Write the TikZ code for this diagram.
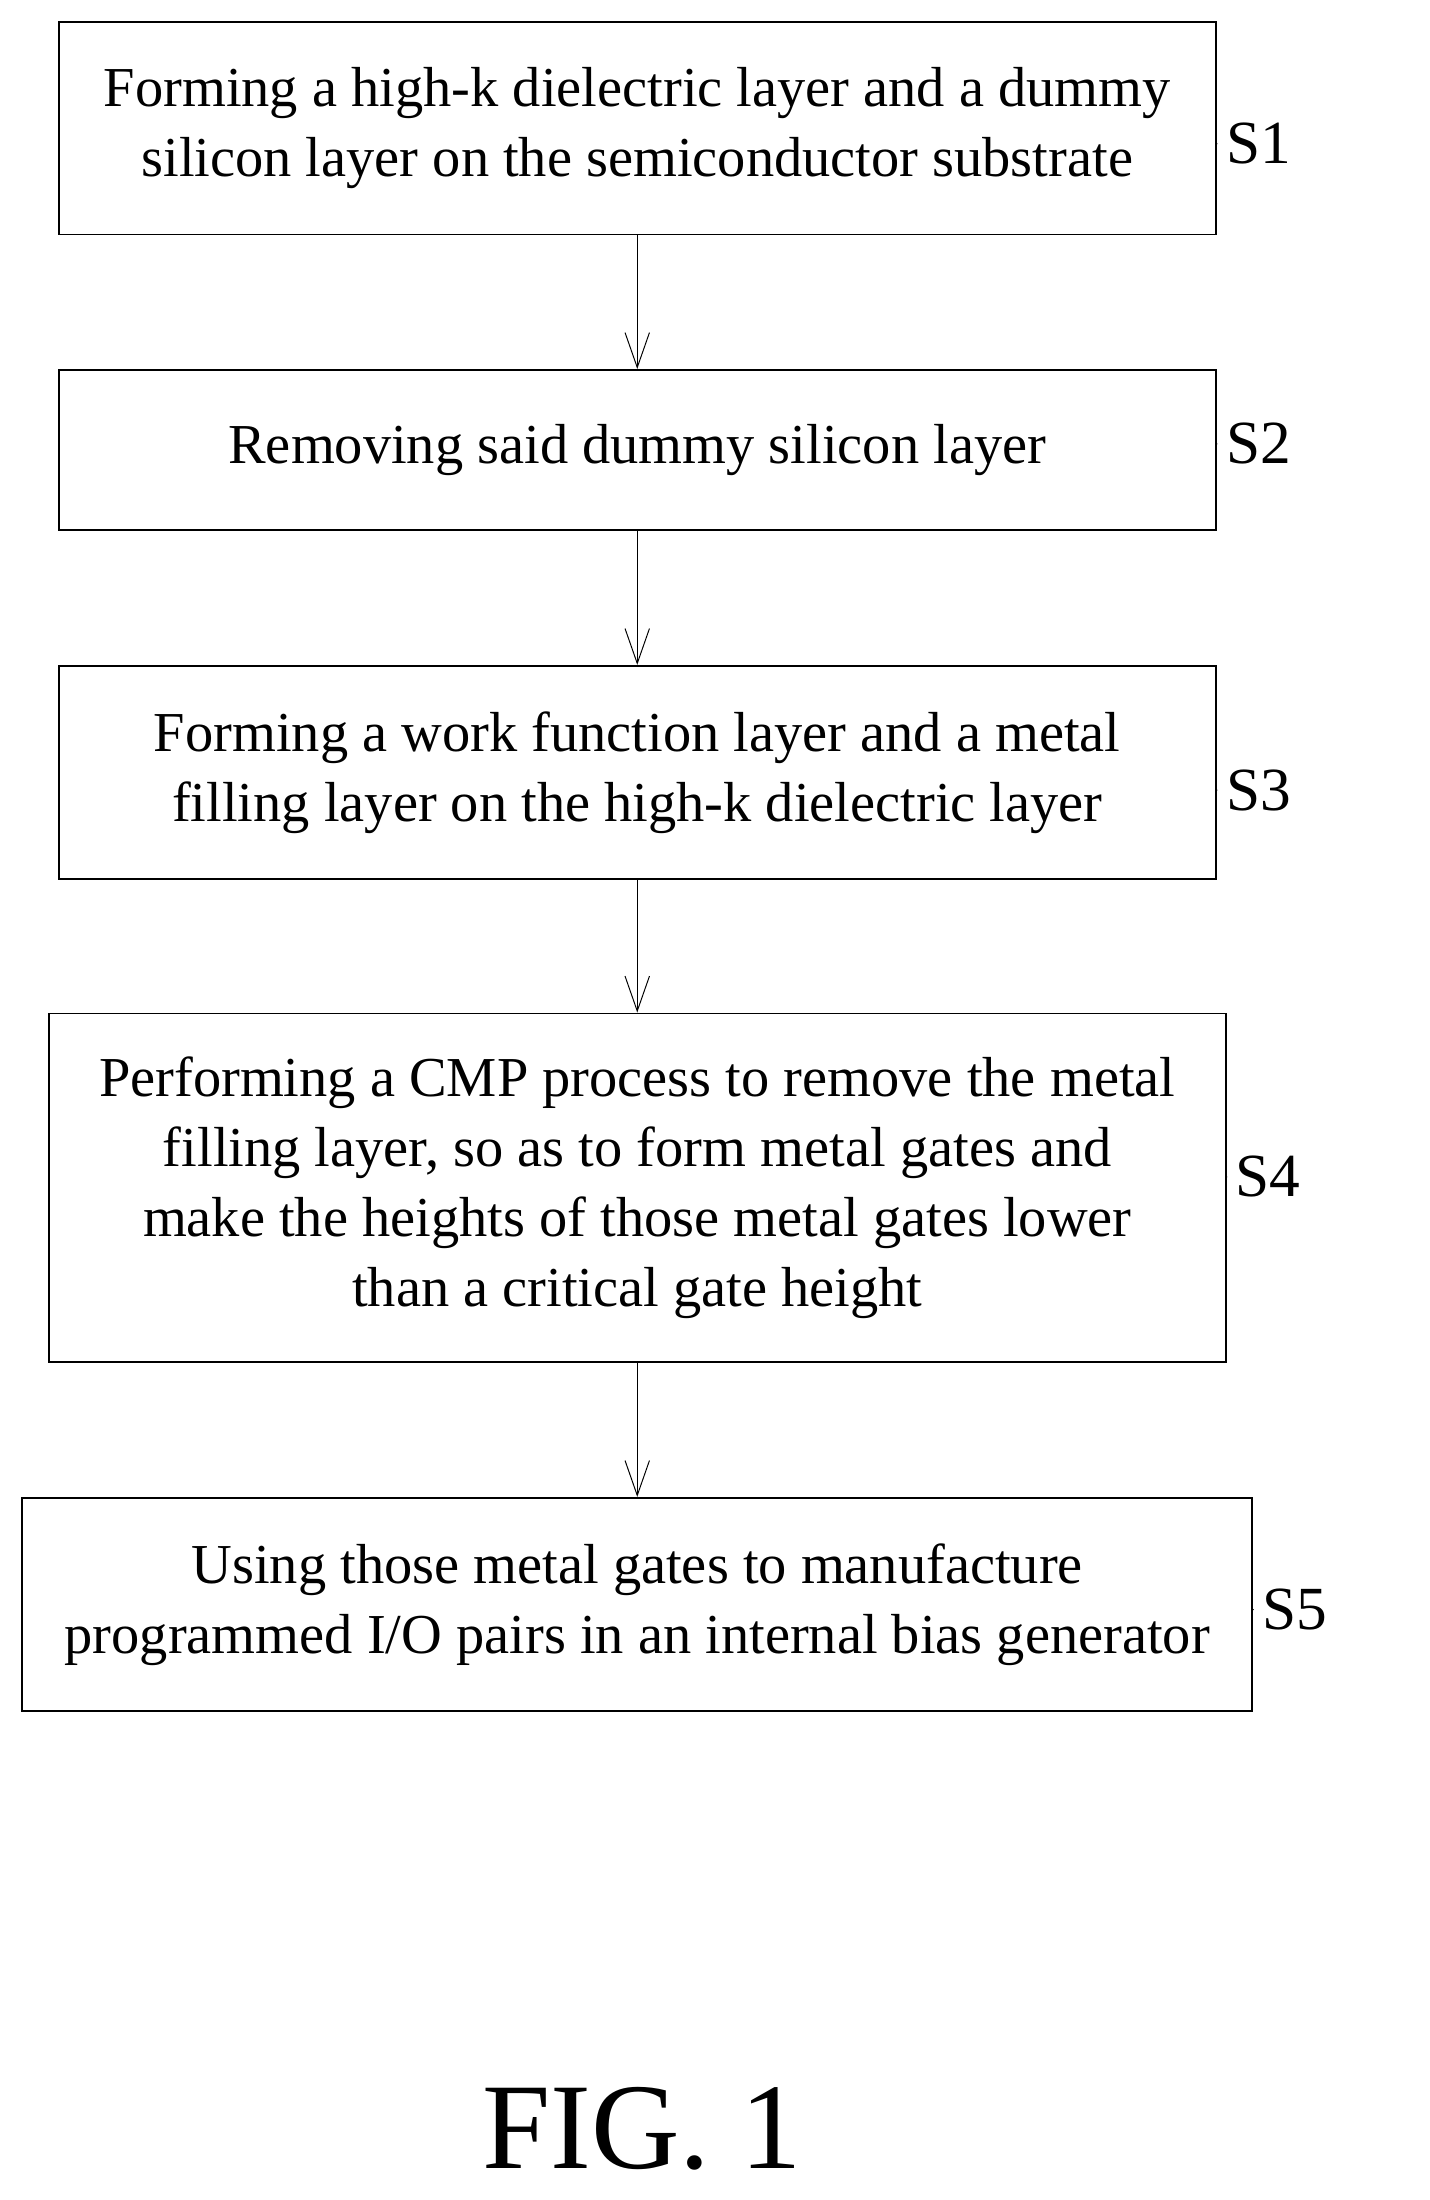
\documentclass[tikz,border=0pt]{standalone}
\usepackage{fontspec}
\setmainfont{Liberation Serif}
\usetikzlibrary{arrows.meta}
\tikzset{
  stepbox/.style={draw, thick, inner sep=0pt, align=center,
    font=\fontsize{23}{28.5}\selectfont},
  flow/.style={-{Straight Barb[length=5mm,width=3.5mm]}, thin},
  tag/.style={font=\fontsize{25}{28}\selectfont, anchor=west}
}
\newcommand{\steptag}[3]{% box edge coordinate, label name, label text
  \draw (#1) .. controls +(0.3,0.25) and +(-0.3,0) .. ++(0.55,0.05)
    .. controls +(0.3,0) and +(-0.2,0.1) .. ++(0.55,-0.1) node[tag] (#2) {#3};}
\begin{document}
\begin{tikzpicture}[x=0.02cm,y=-0.02cm]
\useasboundingbox (0,0) rectangle (1024,1576);
% steps
\node[stepbox, minimum width=16.58cm, minimum height=3.04cm] (s1) at (456.5,92)
  {Forming a high-k dielectric layer and a dummy\\silicon layer on the semiconductor substrate};
\node[stepbox, minimum width=16.58cm, minimum height=2.3cm] (s2) at (456.5,322.5)
  {Removing said dummy silicon layer};
\node[stepbox, minimum width=16.58cm, minimum height=3.06cm] (s3) at (456.5,553.5)
  {Forming a work function layer and a metal\\filling layer on the high-k dielectric layer};
\node[stepbox, minimum width=16.86cm, minimum height=5cm] (s4) at (456.5,851)
  {Performing a CMP process to remove the metal\\filling layer, so as to form metal gates and\\make the heights of those metal gates lower\\than a critical gate height};
\node[stepbox, minimum width=17.62cm, minimum height=3.06cm] (s5) at (456.5,1149.5)
  {Using those metal gates to manufacture\\programmed I/O pairs in an internal bias generator};
% arrows
\draw[flow] (s1.south) -- (s2.north);
\draw[flow] (s2.south) -- (s3.north);
\draw[flow] (s3.south) -- (s4.north);
\draw[flow] (s4.south) -- (s5.north);
% step labels
\coordinate (e1) at (871,103);
\coordinate (e2) at (871,318);
\coordinate (e3) at (871,566);
\coordinate (e4) at (878,843);
\coordinate (e5) at (897,1153);
\steptag{e1}{l1}{S1}
\steptag{e2}{l2}{S2}
\steptag{e3}{l3}{S3}
\steptag{e4}{l4}{S4}
\steptag{e5}{l5}{S5}
\node[font=\fontsize{50}{55}\selectfont] (fig) at (460,1525) {FIG. 1};
\end{tikzpicture}
\end{document}
